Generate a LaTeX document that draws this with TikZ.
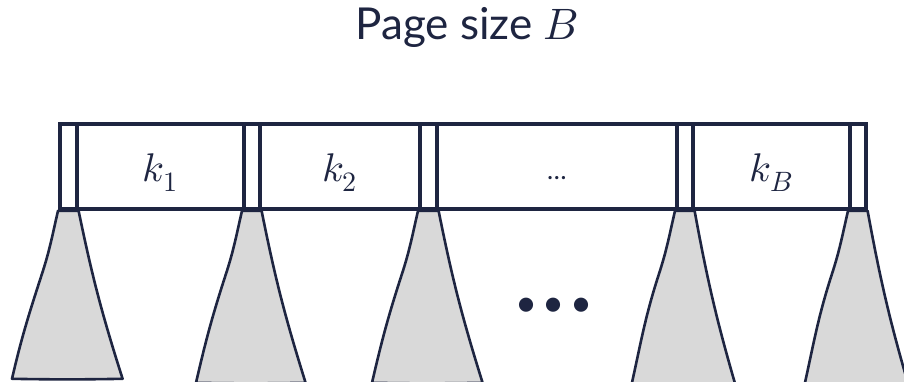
\documentclass[tikz,border=0pt]{standalone}
\usepackage{unicode-math}
\setmainfont{Lato}
\setmathfont{Latin Modern Math}
\usetikzlibrary{backgrounds,calc}
\definecolor{ink}{HTML}{1E2541}
\definecolor{subtree}{HTML}{D9D9D9}
\tikzset{
  cell/.style={draw=ink, line width=3.6pt, minimum height=85pt, inner sep=0pt,
               anchor=west, text=ink, text height=31pt, text depth=0pt,
               font=\fontsize{40}{44}\selectfont},
  ptrcell/.style={cell, minimum width=#1},
  keycell/.style={cell, minimum width=#1},
  tri/.style={draw=ink, fill=subtree, line width=2.6pt, line join=round},
}
% one subtree hanging under a pointer cell: top corners a, b; base at depth d
\newcommand{\subtree}[3]{%
  \path (#1) coordinate (ta) (#2) coordinate (tb);
  \draw[tri] (ta) to[out=-103,in=72] ($(ta)+(-16,63)$)
    to[out=-108,in=77] ($(ta)+(-46,#3)$)
    to[bend right=1] ($(tb)+(44,#3)$)
    to[bend left=3] (tb) -- cycle;}
\begin{document}
\begin{tikzpicture}[x=1pt,y=-1pt]
\useasboundingbox (0,0) rectangle (904,382);
% title
\node[anchor=base, text=ink, font=\fontsize{44}{48}\selectfont] (title) at (467,40) {Page size $B$};
% the page: alternating pointer and key slots
\node[ptrcell=17pt] (p1) at (58,166.5) {};
\node[keycell=167pt] (k1) at (75,166.5) {$k_1$};
\node[ptrcell=16pt] (p2) at (242,166.5) {};
\node[keycell=160pt] (k2) at (258,166.5) {$k_2$};
\node[ptrcell=17pt] (p3) at (418,166.5) {};
\node[keycell=240pt, font=\fontsize{26}{30}\selectfont, text height=25pt] (kd) at (435,166.5) {\ldots};
\node[ptrcell=16pt] (p4) at (675,166.5) {};
\node[keycell=157pt] (kB) at (691,166.5) {$k_B$};
\node[ptrcell=16pt] (p5) at (848,166.5) {};
% subtrees under each pointer
\begin{scope}[on background layer]
  \subtree{p1.south west}{p1.south east}{168}
  \subtree{p2.south west}{p2.south east}{172}
  \subtree{p3.south west}{p3.south east}{172}
  \subtree{p4.south west}{p4.south east}{185}
  \subtree{p5.south west}{p5.south east}{185}
\end{scope}
% more subtrees in between
\node[text=ink, font=\fontsize{38}{40}\selectfont, anchor=center] (more) at (554,307) {•\hspace{5pt}•\hspace{5pt}•};
\end{tikzpicture}
\end{document}
